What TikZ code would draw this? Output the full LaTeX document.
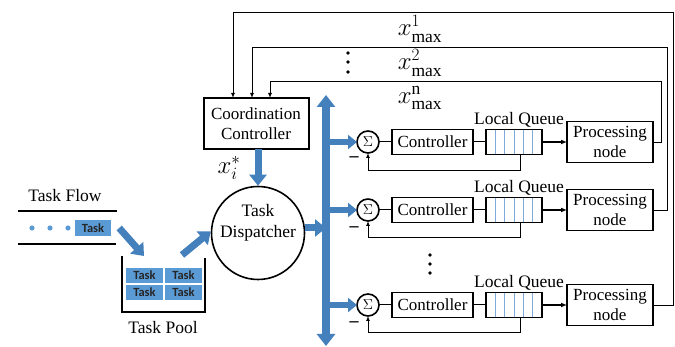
\documentclass[tikz,border=0pt]{standalone}
\usepackage{fontspec}
\setmainfont{Liberation Serif}
\newfontfamily\serifont{Liberation Serif}
\newfontfamily\taskfont{Carlito}
\usetikzlibrary{arrows.meta,calc,positioning}
\definecolor{flowblue}{RGB}{68,128,188}
\definecolor{taskblue}{RGB}{91,155,213}
\definecolor{cellblue}{RGB}{125,170,218}

\begin{document}
\begin{tikzpicture}[
    x=1pt,y=-1pt,
    blk/.style={draw, line width=1.6pt, align=center, inner sep=1pt, outer sep=0pt,
      font=\serifont\fontsize{17}{20}\selectfont},
    ctrlbox/.style={blk, minimum width=81pt, minimum height=25pt},
    procbox/.style={blk, minimum width=86pt, minimum height=41pt},
    queuebox/.style={draw, line width=1.6pt, minimum width=56pt, minimum height=25pt, outer sep=0pt,
      path picture={\foreach \k in {1,...,5}
        \draw[cellblue, line width=0.8pt]
          ($(path picture bounding box.south west)!\k/6!(path picture bounding box.south east)$) --
          ($(path picture bounding box.north west)!\k/6!(path picture bounding box.north east)$);}},
    sumnode/.style={draw, circle, line width=1.6pt, minimum size=22pt, inner sep=0pt, outer sep=0pt,
      font=\fontsize{14}{14}\selectfont},
    task/.style={fill=taskblue, minimum width=37pt, minimum height=15.5pt, inner sep=0pt,
      text=black!85, font=\taskfont\bfseries\fontsize{12.5}{12}\selectfont},
    lbl/.style={font=\serifont\fontsize{17.5}{21}\selectfont, inner sep=1pt, align=center},
    mathlbl/.style={font=\fontsize{25}{25}\selectfont, inner sep=0pt},
    fat/.style={draw=flowblue, line width=7pt, -{Triangle[width=17pt,length=11pt]}},
    branch/.style={draw=flowblue, line width=6pt, -{Triangle[width=14pt,length=9pt]}},
    link/.style={line width=1pt},
    qedge/.style={-{Latex[length=6pt,width=5pt]}, line width=1.5pt},
    fb/.style={-{Latex[length=5pt,width=4pt]}, line width=0.9pt},
    minus/.style={font=\fontsize{18}{18}\selectfont\bfseries, inner sep=0pt}
  ]
    \useasboundingbox (0,0) rectangle (675,347);

    % task flow and pool
    \node[lbl] (flowlbl) at (65,196) {Task Flow};
    \draw[line width=1.2pt] (18,211) -- (117,211);
    \draw[line width=1.2pt] (18,244) -- (116,244);
    \fill[taskblue] (32,228) circle (2.6) (50,228) circle (2.6) (68,228) circle (2.6);
    \node[task, minimum width=36pt] (tflow) at (93,228) {Task};

    \draw[line width=2.2pt] (122,256) |- (205,312) -- (205,258);
    \node[task] (pool1) at (144.5,275.5) {Task};
    \node[task] (pool2) at (183.5,275.5) {Task};
    \node[task] (pool3) at (144.5,292.5) {Task};
    \node[task] (pool4) at (183.5,292.5) {Task};
    \node[lbl] (poollbl) at (163,328) {Task Pool};
    \coordinate (poolin) at (144,256);
    \coordinate (poolout) at (182,255);

    % coordination and dispatch
    \node[blk, line width=2pt, minimum width=105pt, minimum height=51pt] (coord) at (256,123.5) {Coordination\\Controller};
    \node[draw, circle, line width=1.6pt, minimum size=93pt, inner sep=0pt] (disp) at (258,233) {};
    \node[lbl] (disptext) at ([yshift=10pt]disp.center) {Task\\Dispatcher};
    \node[mathlbl] (xstar) at (229,168) {$x_i^*$};

    \coordinate (bustop) at (326,95);
    \coordinate (busbot) at (326,346);
    \draw[flowblue, line width=8pt, {Triangle[width=18pt,length=12pt]}-{Triangle[width=18pt,length=12pt]}] (bustop) -- (busbot);

    \draw[fat] ([xshift=8pt]tflow.east) -- (poolin);
    \draw[fat] (poolout) -- (disp.178);
    \draw[fat] (coord.south -| disp) -- (disp.north);
    \draw[fat] ([yshift=5pt]disp.east) -- ([yshift=5pt]disp.east -| bustop);

    % node rows
    \node[sumnode] (sum1) at (368,142) {$\Sigma$};
    \node[ctrlbox, right=13pt of sum1] (ctrl1) {Controller};
    \node[queuebox, right=13pt of ctrl1] (queue1) {};
    \node[procbox, right=25pt of queue1] (proc1) {Processing\\node};
    \node[lbl, above=1pt of queue1, xshift=5pt] (lq1) {Local Queue};
    \node[minus] (minus1) at (354,159) {--};

    \node[sumnode] (sum2) at (368,210) {$\Sigma$};
    \node[ctrlbox, right=13pt of sum2] (ctrl2) {Controller};
    \node[queuebox, right=13pt of ctrl2] (queue2) {};
    \node[procbox, right=25pt of queue2] (proc2) {Processing\\node};
    \node[lbl, above=1pt of queue2, xshift=5pt] (lq2) {Local Queue};
    \node[minus] (minus2) at (354,229) {--};

    \node[sumnode] (sum3) at (368,305) {$\Sigma$};
    \node[ctrlbox, right=13pt of sum3] (ctrl3) {Controller};
    \node[queuebox, right=13pt of ctrl3] (queue3) {};
    \node[procbox, right=25pt of queue3] (proc3) {Processing\\node};
    \node[lbl, above=1pt of queue3, xshift=5pt] (lq3) {Local Queue};
    \node[minus] (minus3) at (354,324) {--};

    \fill (430,255) circle (1.9) (430,264) circle (1.9) (430,273) circle (1.9);

    \draw[branch] (sum1 -| bustop) -- (sum1.west);
    \draw[branch] (sum2 -| bustop) -- (sum2.west);
    \draw[branch] (sum3 -| bustop) -- (sum3.west);

    \draw[link] (sum1) -- (ctrl1);
    \draw[link] (ctrl1) -- (queue1);
    \draw[qedge] (queue1) -- (proc1);
    \draw[fb] ([xshift=6pt]queue1.south) -- ++(0,16) -| (sum1.south);
    \draw[link] (sum2) -- (ctrl2);
    \draw[link] (ctrl2) -- (queue2);
    \draw[qedge] (queue2) -- (proc2);
    \draw[fb] ([xshift=6pt]queue2.south) -- ++(0,15) -| (sum2.south);
    \draw[link] (sum3) -- (ctrl3);
    \draw[link] (ctrl3) -- (queue3);
    \draw[qedge] (queue3) -- (proc3);
    \draw[fb] ([xshift=6pt]queue3.south) -- ++(0,15) -| (sum3.south);

    % feedback of queue limits
    \draw[fb] (proc1.east) -| (661,81) -| ([xshift=66.5pt]coord.north west);
    \draw[fb] (proc2.east) -| (667,47) -| ([xshift=48.5pt]coord.north west);
    \draw[fb] (proc3.east) -| (673,12) -| ([xshift=29.5pt]coord.north west);
    \node[mathlbl] (xmax1) at (420,29) {$x^{1}_{\max}$};
    \node[mathlbl] (xmax2) at (420,63) {$x^{2}_{\max}$};
    \node[mathlbl] (xmaxn) at (420,98) {$x^{\mathrm{n}}_{\max}$};
    \fill (348,53) circle (1.9) (348,62) circle (1.9) (348,72) circle (1.9);
  \end{tikzpicture}
\end{document}
